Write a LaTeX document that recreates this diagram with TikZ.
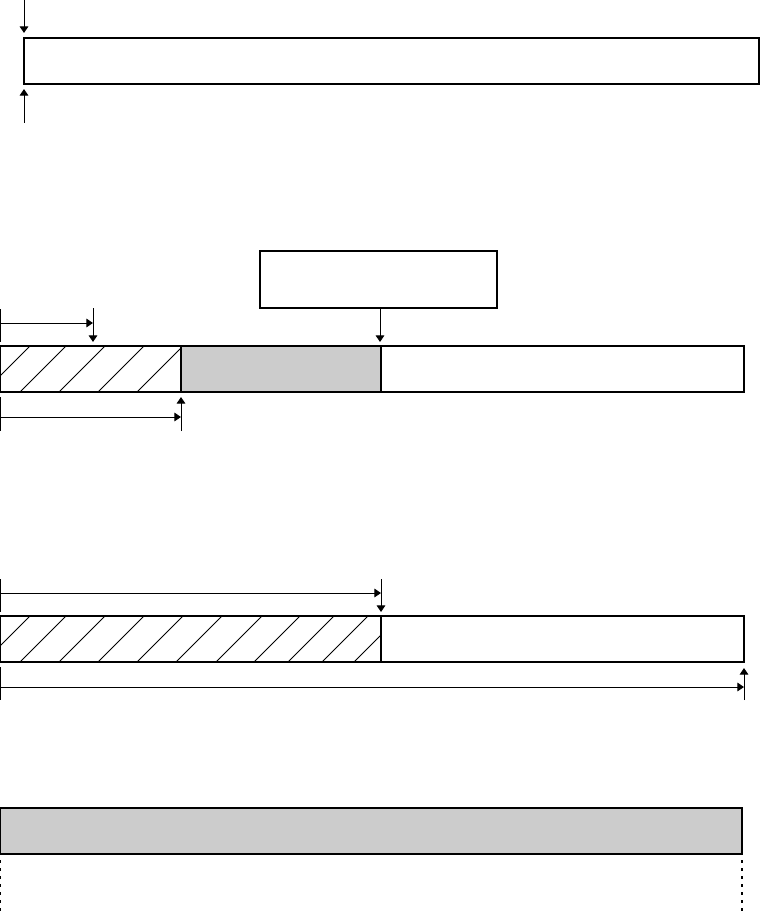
\documentclass[tikz,border=0pt]{standalone}
\usetikzlibrary{arrows.meta}
\definecolor{fillgray}{HTML}{CCCCCC}
\begin{document}
\begin{tikzpicture}[x=0.75pt,y=-0.75pt,
  boxline/.style={draw=black,line width=1.3pt},
  arr/.style={draw=black,line width=0.75pt,-{Triangle[length=5pt,width=6.5pt]}},
  tick/.style={draw=black,line width=0.75pt},
  hatchline/.style={draw=black,line width=0.6pt},
  divider/.style={draw=black,line width=2pt},
  dotline/.style={draw=black,line width=1.5pt,dash pattern=on 2pt off 4pt}]
\useasboundingbox (0,0) rectangle (763,913);

% ---------- section 1
\coordinate (s1a) at (24,0);
\coordinate (s1at) at (24,33);
\coordinate (s1nw) at (24,38);
\coordinate (s1se) at (759,84);
\coordinate (s1b) at (24,123);
\coordinate (s1bt) at (24,89);
\draw[boxline] (s1nw) rectangle (s1se);
\draw[arr] (s1a) -- (s1at);
\draw[arr] (s1b) -- (s1bt);

% ---------- section 2
\coordinate (lbnw) at (260,251);
\coordinate (lbse) at (497,308);
\coordinate (lbs) at (380,308);
\coordinate (lbt) at (380,342);
\draw[boxline] (lbnw) rectangle (lbse);
\draw[arr] (lbs) -- (lbt);

\coordinate (b2nw) at (0,346);
\coordinate (b2h) at (181,392);
\coordinate (b2gnw) at (181,346);
\coordinate (b2gse) at (381,392);
\coordinate (b2se) at (744,392);
\fill[fillgray] (b2gnw) rectangle (b2gse);
\begin{scope}
  \clip (b2nw) rectangle (b2h);
  \foreach \xb in {-16,20,59,98,137}
    \draw[hatchline] (\xb,392) -- ++(46,-46);
\end{scope}
\draw[boxline] (b2nw) rectangle (b2se);
\draw[line width=0.9pt] (b2gnw) -- (181,392);
\draw[divider] (381,346) -- (b2gse);

\coordinate (a2t0) at (0,309);
\coordinate (a2t1) at (0,342);
\coordinate (a2h0) at (0,323);
\coordinate (a2h1) at (93,323);
\coordinate (a2v0) at (93,308);
\coordinate (a2v1) at (93,342);
\draw[tick] (a2t0) -- (a2t1);
\draw[arr] (a2h0) -- (a2h1);
\draw[arr] (a2v0) -- (a2v1);

\coordinate (a2b0) at (0,397);
\coordinate (a2b1) at (0,431);
\coordinate (a2bh0) at (0,417);
\coordinate (a2bh1) at (181,417);
\coordinate (a2bv0) at (181,431);
\coordinate (a2bv1) at (181,397);
\draw[tick] (a2b0) -- (a2b1);
\draw[arr] (a2bh0) -- (a2bh1);
\draw[arr] (a2bv0) -- (a2bv1);

% ---------- section 3
\coordinate (b3nw) at (0,616);
\coordinate (b3h) at (381,662);
\coordinate (b3se) at (744,662);
\begin{scope}
  \clip (b3nw) rectangle (b3h);
  \foreach \xb in {-16,20,59,98,137,176,216,254,288,322,354}
    \draw[hatchline] (\xb,662) -- ++(46,-46);
\end{scope}
\draw[boxline] (b3nw) rectangle (b3se);
\draw[divider] (381,616) -- (b3h);

\coordinate (a3t0) at (0,579);
\coordinate (a3t1) at (0,612);
\coordinate (a3h0) at (0,593);
\coordinate (a3h1) at (381,593);
\coordinate (a3v0) at (381,579);
\coordinate (a3v1) at (381,612);
\draw[tick] (a3t0) -- (a3t1);
\draw[arr] (a3h0) -- (a3h1);
\draw[arr] (a3v0) -- (a3v1);

\coordinate (a3b0) at (0,667);
\coordinate (a3b1) at (0,700);
\coordinate (a3bh0) at (0,687);
\coordinate (a3bh1) at (744,687);
\coordinate (a3bv0) at (744,700);
\coordinate (a3bv1) at (744,668);
\draw[tick] (a3b0) -- (a3b1);
\draw[arr] (a3bh0) -- (a3bh1);
\draw[arr] (a3bv0) -- (a3bv1);

% ---------- section 4
\coordinate (b4nw) at (0,808);
\coordinate (b4se) at (742,854);
\draw[boxline,fill=fillgray] (b4nw) rectangle (b4se);
\coordinate (d1a) at (0,860);
\coordinate (d1b) at (0,913);
\coordinate (d2a) at (742,860);
\coordinate (d2b) at (742,913);
\draw[dotline] (d1a) -- (d1b);
\draw[dotline] (d2a) -- (d2b);
\end{tikzpicture}
\end{document}
